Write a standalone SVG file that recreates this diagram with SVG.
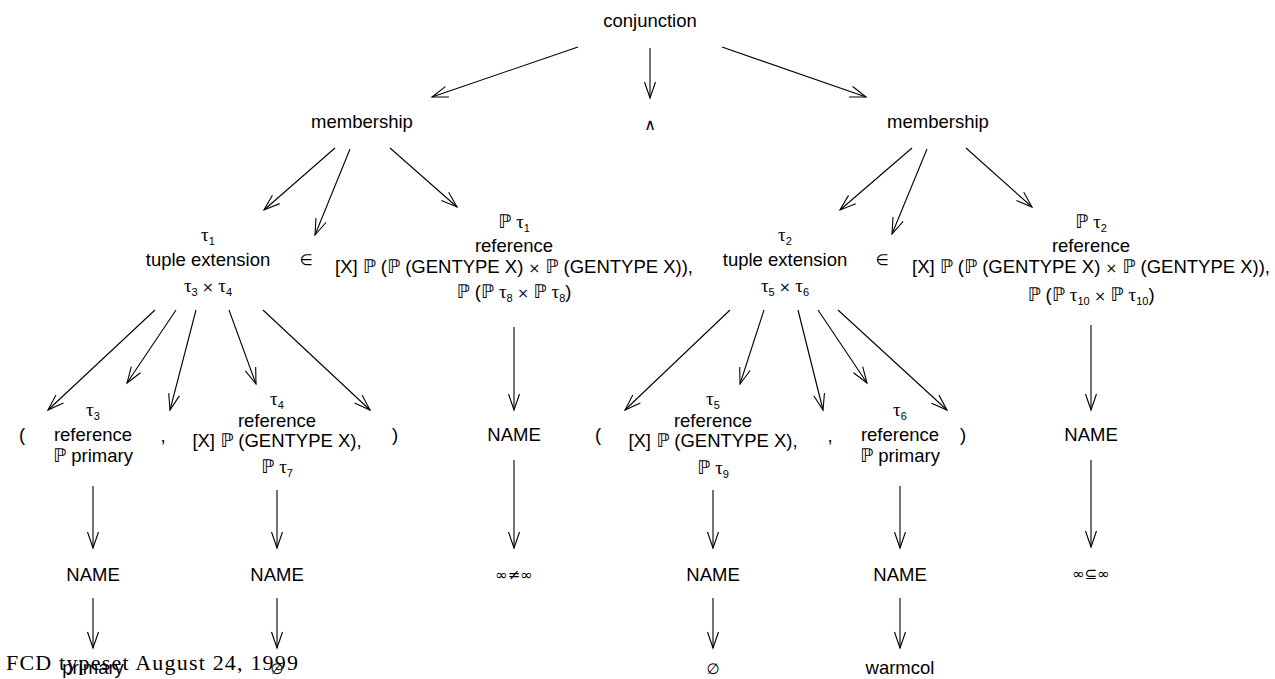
<svg xmlns="http://www.w3.org/2000/svg" width="1275" height="679" viewBox="0 0 1275 679">
<style>
text{font-family:"Liberation Sans","DejaVu Sans",sans-serif;font-size:18.5px;fill:#000;text-anchor:middle}
.g{font-family:"Liberation Serif","DejaVu Serif",serif;font-size:19px}
.s{font-size:11px}
.sym{font-family:"DejaVu Sans",sans-serif;font-size:15px}
.and{font-family:"DejaVu Sans",sans-serif;font-size:16px}
.x{font-family:"DejaVu Sans",sans-serif;font-size:14px}
.foot{font-family:"Liberation Serif",serif;font-size:22px;text-anchor:start}
#edges line{stroke:#000;stroke-width:1.1;fill:none;marker-end:url(#a)}
</style>
<defs>
<marker id="a" viewBox="-18 -8 20 16" refX="0" refY="0" markerWidth="20" markerHeight="16" orient="auto" markerUnits="userSpaceOnUse">
<path d="M-16,-5.5 L0,0 L-16,5.5" fill="none" stroke="#000" stroke-width="1.1"/>
</marker>
</defs>
<g id="edges">
<line x1="578" y1="47" x2="432" y2="97"/>
<line x1="650" y1="48" x2="650" y2="98"/>
<line x1="722" y1="47" x2="866" y2="97"/>
<line x1="335" y1="148" x2="264" y2="210"/>
<line x1="350" y1="149" x2="315" y2="235"/>
<line x1="390" y1="148" x2="457" y2="207"/>
<line x1="912" y1="148" x2="840" y2="210"/>
<line x1="927" y1="149" x2="892" y2="234"/>
<line x1="966" y1="148" x2="1032" y2="207"/>
<line x1="155" y1="310" x2="48" y2="410"/>
<line x1="176" y1="310" x2="127" y2="383"/>
<line x1="196" y1="310" x2="170" y2="410"/>
<line x1="229" y1="310" x2="256" y2="384"/>
<line x1="263" y1="310" x2="370" y2="410"/>
<line x1="730" y1="310" x2="625" y2="410"/>
<line x1="764" y1="310" x2="740" y2="384"/>
<line x1="798" y1="310" x2="823" y2="410"/>
<line x1="818" y1="310" x2="867" y2="383"/>
<line x1="838" y1="310" x2="947" y2="410"/>
<line x1="514" y1="327" x2="514" y2="410"/>
<line x1="514" y1="460" x2="514" y2="548"/>
<line x1="1091" y1="325" x2="1091" y2="410"/>
<line x1="1091" y1="460" x2="1091" y2="547"/>
<line x1="93" y1="486" x2="93" y2="548"/>
<line x1="93" y1="598" x2="93" y2="648"/>
<line x1="277" y1="490" x2="277" y2="548"/>
<line x1="277" y1="598" x2="277" y2="648"/>
<line x1="713" y1="490" x2="713" y2="548"/>
<line x1="713" y1="598" x2="713" y2="648"/>
<line x1="900" y1="486" x2="900" y2="548"/>
<line x1="900" y1="598" x2="900" y2="648"/>
</g>
<g id="conjunction"><text x="650" y="27">conjunction</text></g>
<g id="membership1"><text x="362" y="128">membership</text></g>
<g id="and"><text class="and" x="650" y="130">∧</text></g>
<g id="membership2"><text x="938" y="128">membership</text></g>
<g id="tuple1">
<text x="208" y="241"><tspan class="g">τ</tspan><tspan class="s" dy="4">1</tspan></text>
<text x="208" y="266">tuple extension</text>
<text x="208" y="292"><tspan class="g">τ</tspan><tspan class="s" dy="4">3</tspan><tspan class="x" dy="-4"> × </tspan><tspan class="g">τ</tspan><tspan class="s" dy="4">4</tspan></text>
</g>
<g id="in1"><text class="sym" x="306" y="265">∈</text></g>
<g id="ref1">
<text x="514" y="228">ℙ <tspan class="g">τ</tspan><tspan class="s" dy="4">1</tspan></text>
<text x="514" y="252">reference</text>
<text x="514" y="273">[X] ℙ (ℙ (GENTYPE X) <tspan class="x">×</tspan> ℙ (GENTYPE X)),</text>
<text x="514" y="298">ℙ (ℙ <tspan class="g">τ</tspan><tspan class="s" dy="4">8</tspan><tspan class="x" dy="-4"> × </tspan>ℙ <tspan class="g">τ</tspan><tspan class="s" dy="4">8</tspan><tspan dy="-4">)</tspan></text>
</g>
<g id="tuple2">
<text x="785" y="241"><tspan class="g">τ</tspan><tspan class="s" dy="4">2</tspan></text>
<text x="785" y="266">tuple extension</text>
<text x="785" y="292"><tspan class="g">τ</tspan><tspan class="s" dy="4">5</tspan><tspan class="x" dy="-4"> × </tspan><tspan class="g">τ</tspan><tspan class="s" dy="4">6</tspan></text>
</g>
<g id="in2"><text class="sym" x="882" y="265">∈</text></g>
<g id="ref2">
<text x="1091" y="228">ℙ <tspan class="g">τ</tspan><tspan class="s" dy="4">2</tspan></text>
<text x="1091" y="252">reference</text>
<text x="1091" y="273">[X] ℙ (ℙ (GENTYPE X) <tspan class="x">×</tspan> ℙ (GENTYPE X)),</text>
<text x="1091" y="301">ℙ (ℙ <tspan class="g">τ</tspan><tspan class="s" dy="4">10</tspan><tspan class="x" dy="-4"> × </tspan>ℙ <tspan class="g">τ</tspan><tspan class="s" dy="4">10</tspan><tspan dy="-4">)</tspan></text>
</g>
<g id="lparen1"><text x="22" y="441">(</text></g>
<g id="ref3">
<text x="93" y="416"><tspan class="g">τ</tspan><tspan class="s" dy="4">3</tspan></text>
<text x="93" y="441">reference</text>
<text x="93" y="462">ℙ primary</text>
</g>
<g id="comma1"><text x="163" y="442">,</text></g>
<g id="ref4">
<text x="277" y="405"><tspan class="g">τ</tspan><tspan class="s" dy="4">4</tspan></text>
<text x="277" y="427">reference</text>
<text x="277" y="447">[X] ℙ (GENTYPE X),</text>
<text x="277" y="473">ℙ <tspan class="g">τ</tspan><tspan class="s" dy="4">7</tspan></text>
</g>
<g id="rparen1"><text x="395" y="441">)</text></g>
<g id="name1"><text x="514" y="441">NAME</text></g>
<g id="lparen2"><text x="598" y="441">(</text></g>
<g id="ref5">
<text x="713" y="405"><tspan class="g">τ</tspan><tspan class="s" dy="4">5</tspan></text>
<text x="713" y="427">reference</text>
<text x="713" y="447">[X] ℙ (GENTYPE X),</text>
<text x="713" y="474">ℙ <tspan class="g">τ</tspan><tspan class="s" dy="4">9</tspan></text>
</g>
<g id="comma2"><text x="830" y="442">,</text></g>
<g id="ref6">
<text x="900" y="416"><tspan class="g">τ</tspan><tspan class="s" dy="4">6</tspan></text>
<text x="900" y="441">reference</text>
<text x="900" y="462">ℙ primary</text>
</g>
<g id="rparen2"><text x="963" y="441">)</text></g>
<g id="name2"><text x="1091" y="441">NAME</text></g>
<g id="name3"><text x="93" y="581">NAME</text></g>
<g id="name4"><text x="277" y="581">NAME</text></g>
<g id="neq"><text class="sym" x="514" y="580">∞≠∞</text></g>
<g id="name5"><text x="713" y="581">NAME</text></g>
<g id="name6"><text x="900" y="581">NAME</text></g>
<g id="subseteq"><text class="sym" x="1091" y="579">∞⊆∞</text></g>
<g id="primary"><text x="93" y="674">primary</text></g>
<g id="empty1"><text class="sym" x="277" y="674">∅</text></g>
<g id="empty2"><text class="sym" x="713" y="674">∅</text></g>
<g id="warmcol"><text x="900" y="674">warmcol</text></g>
<g id="footer"><text class="foot" x="6" y="670" textLength="292" lengthAdjust="spacing">FCD typeset August 24, 1999</text></g>
</svg>
